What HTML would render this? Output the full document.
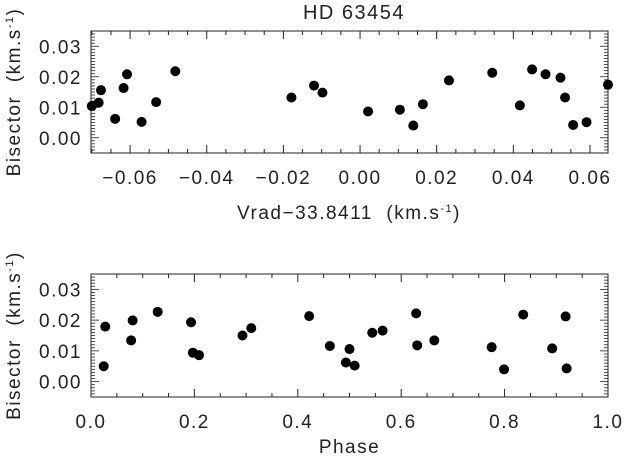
<!DOCTYPE html>
<html><head><meta charset="utf-8"><style>
body{margin:0;background:#fff;}
svg text{font-family:"Liberation Sans","DejaVu Sans",sans-serif;fill:#222;letter-spacing:1.5px;}
</style></head><body>
<svg id="chart" width="624" height="455" xmlns="http://www.w3.org/2000/svg">
<text x="354" y="19" font-size="20" text-anchor="middle">HD 63454</text>
</svg>
<script>
// top panel data
const vradValues=[-0.0700,-0.0682,-0.0676,-0.0639,-0.0617,-0.0608,-0.0570,-0.0532,-0.0482,-0.0179,-0.0120,-0.0098,0.0021,0.0104,0.0139,0.0164,0.0232,0.0345,0.0417,0.0449,0.0484,0.0523,0.0535,0.0556,0.0591,0.0647];
const bisTop=[0.0104,0.0115,0.0156,0.0062,0.0163,0.0208,0.0052,0.0117,0.0218,0.0132,0.0171,0.0148,0.0086,0.0092,0.0040,0.0110,0.0188,0.0213,0.0106,0.0224,0.0208,0.0197,0.0132,0.0042,0.0051,0.0174];
const topXTicks=[-0.06,-0.04,-0.02,0.00,0.02,0.04,0.06];
const topXLabels=["\u22120.06","\u22120.04","\u22120.02","0.00","0.02","0.04","0.06"];
// bottom panel data
const phaseValues=[0.0246,0.0276,0.0776,0.0806,0.129,0.1935,0.197,0.209,0.293,0.310,0.422,0.462,0.493,0.500,0.510,0.544,0.564,0.629,0.631,0.664,0.775,0.799,0.836,0.892,0.918,0.920];
const bisBottom=[0.0050,0.0179,0.0134,0.0199,0.0227,0.0193,0.0094,0.0086,0.0150,0.0174,0.0213,0.0116,0.0062,0.0106,0.0052,0.0159,0.0166,0.0222,0.0118,0.0134,0.0112,0.0040,0.0218,0.0108,0.0212,0.0043];
const botXTicks=[0,0.2,0.4,0.6,0.8,1.0];
const botXLabels=["0.0","0.2","0.4","0.6","0.8","1.0"];
const yTicks=[0,0.01,0.02,0.03];
const yLabels=["0.00","0.01","0.02","0.03"];

const svg=document.getElementById('chart');
const NS='http://www.w3.org/2000/svg';
function mk(tag,attrs){const e=document.createElementNS(NS,tag);for(const k in attrs)e.setAttribute(k,attrs[k]);svg.appendChild(e);return e;}

function panel(p){
  const sx=v=>p.x0+(v-p.xmin)/(p.xmax-p.xmin)*(p.x1-p.x0);
  const sy=v=>p.y1-(v-p.ymin)/(p.ymax-p.ymin)*(p.y1-p.y0);
  const box=mk('rect',{x:p.x0,y:p.y0,width:p.x1-p.x0,height:p.y1-p.y0,fill:'none',stroke:'#222','stroke-width':1});
  
  
  const xs=Math.ceil(p.xmin/p.xminor-1e-9);
  for(let i=xs;i*p.xminor<=p.xmax+1e-9;i++){
    const v=i*p.xminor;const X=sx(v);
    const major=Math.abs(v/p.xmajor-Math.round(v/p.xmajor))<1e-6;
    const L=major?8:4;
    const t1=mk('line',{x1:X,x2:X,y1:p.y1,y2:p.y1-L,stroke:'#222'});
    
    
    const t2=mk('line',{x1:X,x2:X,y1:p.y0,y2:p.y0+L,stroke:'#222'});
    
    
  }
  for(let i=Math.ceil(p.ymin/0.001-1e-9);i*0.001<=p.ymax+1e-9;i++){
    const v=i*0.001;const Y=sy(v);
    const major=i%10===0;const L=major?8:4;
    const t1=mk('line',{x1:p.x0,x2:p.x0+L,y1:Y,y2:Y,stroke:'#222','stroke-width':0.8});
    
    
    const t2=mk('line',{x1:p.x1,x2:p.x1-L,y1:Y,y2:Y,stroke:'#222','stroke-width':0.8});
    
    
  }
  p.xt.forEach((v,i)=>{
    const t=mk('text',{x:sx(v),y:p.y1+31,'font-size':19,'text-anchor':'middle'});
    t.textContent=p.xl[i];
    
    
  });
  yTicks.forEach((v,i)=>{
    const t=mk('text',{x:p.x0-9,y:sy(v)+7,'font-size':19,'text-anchor':'end'});
    t.textContent=yLabels[i];
    
    
  });
  p.xs.forEach((v,i)=>{
    const c=mk('circle',{cx:sx(v),cy:sy(p.ys[i]),r:5,fill:'#000'});
    
    
  });
  const xt=mk('text',{x:(p.x0+p.x1)/2,y:p.y1+56,'font-size':19,'text-anchor':'middle'});
  xt.textContent=p.xtitle;
  
  
  const cy=(p.y0+p.y1)/2;
  const yt=mk('text',{x:20,y:cy,'font-size':19,'text-anchor':'middle',transform:'rotate(-90 20 '+cy+')'});
  yt.innerHTML='Bisector&#160;&#160;(km.s<tspan font-size="11" dy="-7">-1</tspan><tspan dy="7">)</tspan>';
  
  
}
panel({name:'vrad',x0:91,x1:608,y0:31,y1:153,xmin:-0.0702,xmax:0.0647,ymin:-0.005,ymax:0.035,xmajor:0.02,xminor:0.005,xt:topXTicks,xl:topXLabels,xs:vradValues,ys:bisTop,xtitle:''});
panel({name:'phase',x0:91,x1:608,y0:274,y1:397,xmin:0,xmax:1,ymin:-0.005,ymax:0.035,xmajor:0.2,xminor:0.05,xt:botXTicks,xl:botXLabels,xs:phaseValues,ys:bisBottom,xtitle:'Phase'});
const vt=mk('text',{x:349,y:219,'font-size':19,'text-anchor':'middle'});
vt.innerHTML='Vrad\u221233.8411&#160;&#160;(km.s<tspan font-size="11" dy="-7">-1</tspan><tspan dy="7">)</tspan>';


</script>
</body></html>
